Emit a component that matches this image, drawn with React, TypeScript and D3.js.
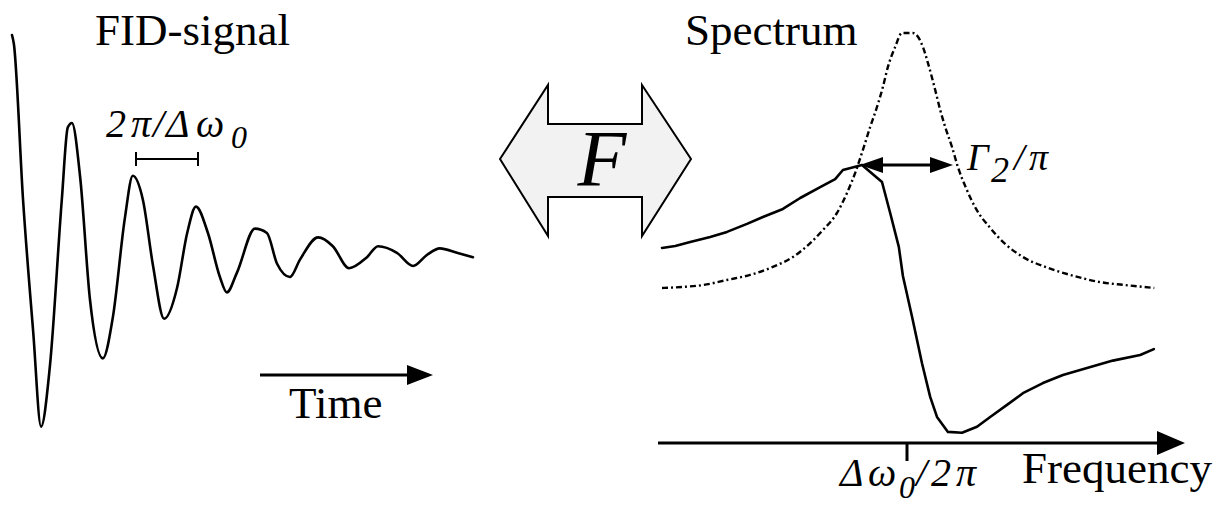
import React, { useEffect } from "react";
import * as d3 from "d3";

// FID signal: time (arb. units) and signal amplitude (normalised)
const fidTime = [0.0, 0.04, 0.24, 0.46, 0.63, 0.82, 1.08, 1.21, 1.3, 1.48, 1.69, 1.97, 2.19, 2.45, 2.62, 2.84, 3.06, 3.3, 3.58, 3.8, 3.99, 4.25, 4.51, 4.66, 4.88, 5.27, 5.53, 5.75, 6.03, 6.25, 6.64, 6.96, 7.31, 7.7, 7.94, 8.35, 8.7, 9.0, 9.28, 9.65, 10.0];
const fidSignal = [1.0, 0.96, 0.25, -0.35, -0.78, -0.51, 0.25, 0.58, 0.6, 0.35, -0.2, -0.47, -0.28, 0.17, 0.36, 0.25, -0.05, -0.29, -0.15, 0.1, 0.22, 0.1, -0.1, -0.17, -0.08, 0.12, 0.1, -0.04, -0.1, -0.02, 0.08, 0.04, -0.06, -0.01, 0.04, 0.01, -0.05, 0.0, 0.03, 0.01, -0.01];

// Spectrum: frequency offset (in units of half-width) and amplitudes
const absFreq = [-5.39, -4.93, -4.49, -3.96, -3.45, -2.95, -2.51, -2.13, -1.85, -1.54, -1.32, -1.14, -0.97, -0.81, -0.66, -0.53, -0.42, -0.26, -0.11, 0.13, 0.35, 0.46, 0.62, 0.73, 0.84, 0.99, 1.12, 1.3, 1.52, 1.83, 2.16, 2.55, 3.04, 3.59, 4.25, 4.8, 5.44];
const absValue = [0.045, 0.049, 0.056, 0.075, 0.094, 0.124, 0.161, 0.213, 0.262, 0.326, 0.401, 0.476, 0.562, 0.648, 0.723, 0.798, 0.873, 0.948, 1.0, 1.0, 0.948, 0.888, 0.787, 0.712, 0.648, 0.573, 0.498, 0.419, 0.341, 0.27, 0.21, 0.161, 0.124, 0.094, 0.067, 0.056, 0.045];
const dispFreq = [-5.39, -5.1, -4.77, -4.33, -3.96, -3.52, -3.17, -2.73, -2.35, -1.91, -1.58, -1.41, -0.99, -0.55, -0.37, -0.18, -0.09, 0.11, 0.33, 0.51, 0.66, 0.9, 1.21, 1.54, 1.83, 2.2, 2.55, 2.99, 3.43, 3.96, 4.53, 5.13, 5.43];
const dispValue = [0.195, 0.202, 0.217, 0.236, 0.255, 0.285, 0.311, 0.341, 0.382, 0.423, 0.453, 0.487, 0.506, 0.442, 0.326, 0.199, 0.09, -0.062, -0.237, -0.363, -0.438, -0.494, -0.497, -0.475, -0.438, -0.393, -0.349, -0.311, -0.281, -0.255, -0.227, -0.206, -0.184];

// Labels
const panelTitles = ["FID-signal", "Spectrum"];
const axisLabels = ["Time", "Frequency"];
const transformLabel = "F";

const SERIF = '"Liberation Serif", "Times New Roman", Tinos, Times, serif';
const CSS = `svg.nmr text, svg.nmr tspan { font-family: ${SERIF} !important; }`;

export default function App() {
  const W = 1223;
  const H = 507;

  useEffect(() => {
    document.body.style.margin = "0";
    document.body.style.fontFamily = SERIF;
  }, []);

  const xT = d3.scaleLinear().domain([0, 10]).range([12, 473]);
  const yT = d3.scaleLinear().domain([-1, 1]).range([475, 35]);
  const xF = d3.scaleLinear().domain([-5.5, 5.5]).range([657, 1157]);
  const yF = d3.scaleLinear().domain([-0.5, 1]).range([433.5, 33]);

  const fidPath = d3
    .line<number>()
    .x((_, i) => xT(fidTime[i]))
    .y((d) => yT(d))
    .curve(d3.curveMonotoneX)(fidSignal) || "";

  const absPath = d3
    .line<number>()
    .x((_, i) => xF(absFreq[i]))
    .y((d) => yF(d))
    .curve(d3.curveMonotoneX)(absValue) || "";

  const dispPath = d3
    .line<number>()
    .x((_, i) => xF(dispFreq[i]))
    .y((d) => yF(d))
    .curve(d3.curveLinear)(dispValue) || "";

  const dbl = [
    [500, 159], [548, 85], [548, 124], [642, 124], [642, 85], [691, 159],
    [642, 236], [642, 197], [548, 197], [548, 236],
  ];

  const axY = 443;
  const x0 = xF(0);

  const gy = 165;
  const gl = 860;
  const gr = 953;

  const pb1 = 136, pb2 = 198, pby = 159;
  const ff = "Liberation Serif";

  return (
    <svg className="nmr" width={W} height={H} style={{ position: "absolute", left: 0, top: 0 }} fontFamily={ff}>
      <style>{CSS}</style>
      {/* FID */}
      <path d={fidPath} fill="none" stroke="#000" strokeWidth={2.6} strokeLinejoin="round" strokeLinecap="round" />
      <text x={95} y={45} fontSize={45} fontFamily={ff}>{panelTitles[0]}</text>

      <line x1={pb1} x2={pb2} y1={pby} y2={pby} stroke="#000" strokeWidth={2} />
      <line x1={pb1} x2={pb1} y1={pby - 7} y2={pby + 7} stroke="#000" strokeWidth={2} />
      <line x1={pb2} x2={pb2} y1={pby - 7} y2={pby + 7} stroke="#000" strokeWidth={2} />
      <text y={137} fontSize={40} fontStyle="italic" fontFamily={ff}>
        <tspan x={106}>2</tspan>
        <tspan x={131}>π</tspan>
        <tspan x={153}>/</tspan>
        <tspan x={166}>Δ</tspan>
        <tspan x={196}>ω</tspan>
        <tspan x={231} dy={11} fontSize={32}>0</tspan>
      </text>

      <line x1={260} x2={410} y1={375} y2={375} stroke="#000" strokeWidth={3} />
      <polygon points="407,365 433,375 407,385" fill="#000" />
      <text x={289} y={418} fontSize={45} fontFamily={ff}>{axisLabels[0]}</text>

      <polygon points={dbl.map((p) => p.join(",")).join(" ")} fill="#f2f2f2" stroke="#000" strokeWidth={2} strokeLinejoin="miter" />
      <text x={602} y={186} fontSize={80} fontStyle="italic" textAnchor="middle" fontFamily={ff}>{transformLabel}</text>

      <text x={685} y={45} fontSize={45} fontFamily={ff}>{panelTitles[1]}</text>
      <path d={absPath} fill="none" stroke="#000" strokeWidth={2.4} strokeDasharray="6 3 2 3" />
      <path d={dispPath} fill="none" stroke="#000" strokeWidth={2.6} strokeLinejoin="round" strokeLinecap="round" />

      <line x1={gl + 18} x2={gr - 18} y1={gy} y2={gy} stroke="#000" strokeWidth={3} />
      <polygon points={`${gl},${gy} ${gl + 23},${gy - 8} ${gl + 23},${gy + 8}`} fill="#000" />
      <polygon points={`${gr},${gy} ${gr - 23},${gy - 8} ${gr - 23},${gy + 8}`} fill="#000" />
      <text y={170} fontSize={38} fontStyle="italic" fontFamily={ff}>
        <tspan x={967}>Γ</tspan>
        <tspan x={991} dy={12} fontSize={36}>2</tspan>
        <tspan x={1014} dy={-12}>/</tspan>
        <tspan x={1029}>π</tspan>
      </text>

      <line x1={658} x2={1160} y1={axY} y2={axY} stroke="#000" strokeWidth={3} />
      <polygon points={`1157,${axY - 12} 1185,${axY} 1157,${axY + 12}`} fill="#000" />
      <line x1={x0} x2={x0} y1={axY} y2={axY + 18} stroke="#000" strokeWidth={3} />
      <text y={486} fontSize={40} fontStyle="italic" fontFamily={ff}>
        <tspan x={840}>Δ</tspan>
        <tspan x={868}>ω</tspan>
        <tspan x={899} dy={12} fontSize={32}>0</tspan>
        <tspan x={916} dy={-12}>/</tspan>
        <tspan x={931}>2</tspan>
        <tspan x={956}>π</tspan>
      </text>
      <text x={1022} y={483} fontSize={45} fontFamily={ff}>{axisLabels[1]}</text>
    </svg>
  );
}
